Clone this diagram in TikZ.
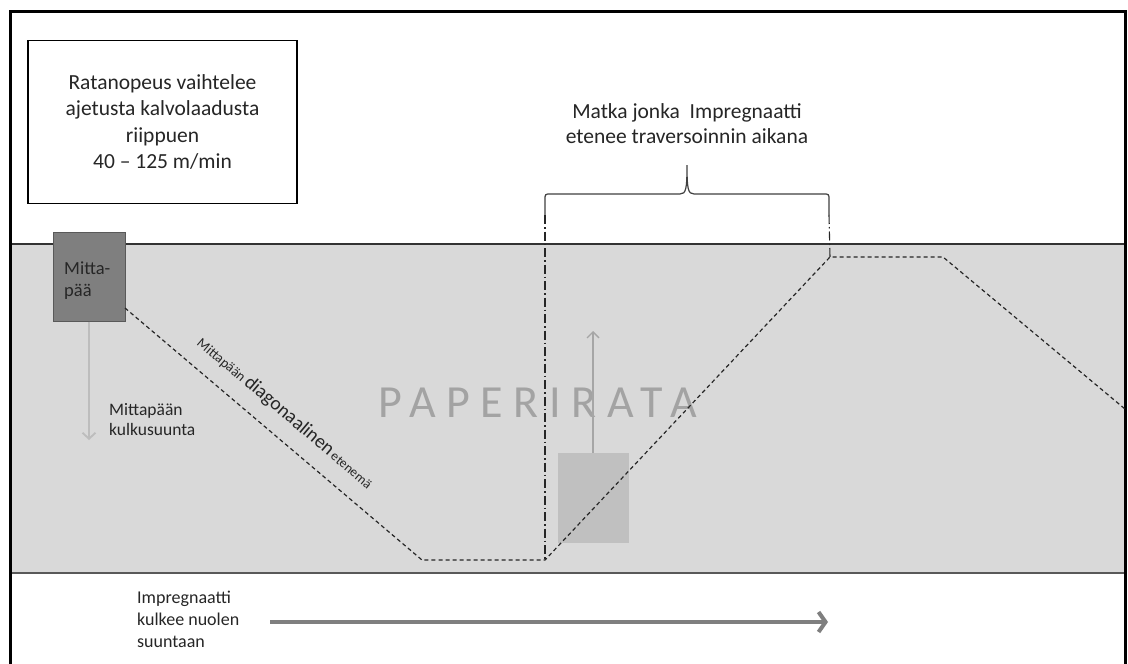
\documentclass[tikz,border=0pt]{standalone}
\usepackage{fontspec}
\setmainfont{Carlito}
\usetikzlibrary{arrows.meta}

\definecolor{bandgrey}{HTML}{D9D9D9}
\definecolor{headgrey}{HTML}{7F7F7F}
\definecolor{headedge}{HTML}{595959}
\definecolor{lightarrow}{HTML}{BDBDBD}
\definecolor{webtext}{HTML}{A3A3A3}
\definecolor{boxgrey}{HTML}{C0C0C0}

\tikzset{
  txt/.style={inner sep=0pt, text=black!85},
  pathline/.style={draw=black!85, line width=1.2pt, dash pattern=on 4pt off 3pt},
  guideline/.style={draw=black!85, line width=1.1pt, dash pattern=on 9pt off 3pt on 1.5pt off 3pt},
  bracestyle/.style={draw=black!75, line width=1.2pt},
  greyarrow/.style={draw=lightarrow, line width=1.8pt, -{Straight Barb[length=6pt,width=13pt,line width=1.8pt]}},
  flowarrow/.style={draw=headgrey, line width=4.5pt, -{Straight Barb[length=7pt,width=20pt,line width=4pt]}},
}

\begin{document}
\begin{tikzpicture}[x=1pt,y=-1pt]
\useasboundingbox (0,0) rectangle (1128,664);
\fill[white] (0,0) rectangle (1128,664);

% paper web band
\fill[bandgrey] (10,244) rectangle (1125,573);
\draw[black!80, line width=1.2pt] (10,244) -- (1125,244);
\draw[headedge, line width=2.4pt] (10,573) -- (1125,573);

% outer frame (open at the bottom)
\draw[black, line width=3pt] (10,670) -- (10,11) -- (1125,11) -- (1125,670);

% info box
\node[draw=black, line width=1.1pt, fill=white, minimum width=269pt, minimum height=163pt,
      inner sep=0pt, align=center, font=\fontsize{21.5}{26.5}\selectfont, text=black!85]
  (info) at (162.5,122) {Ratanopeus vaihtelee\\ajetusta kalvolaadusta\\riippuen\\40 -- 125 m/min};

% web label
\node[txt, anchor=base west, text=webtext, font=\fontsize{46}{46}\selectfont\addfontfeatures{LetterSpace=23}]
  (web) at (378,417) {PAPERIRATA};

% measuring head
\node[draw=headedge, line width=1pt, fill=headgrey, minimum width=72pt, minimum height=89pt, inner sep=0pt]
  (head) at (89,276.5) {};
\node[txt, anchor=west, align=left, font=\fontsize{18.5}{22}\selectfont] (headtxt) at (64,281) {Mitta-\\pää};

% head travel direction
\coordinate (downend) at (89,440);
\draw[greyarrow] (head.south) -- (downend);
\node[txt, anchor=west, align=left, font=\fontsize{17.5}{20}\selectfont] (dirtxt) at (109,420) {Mittapään\\kulkusuunta};

% sample patch with upward arrow
\node[fill=boxgrey, minimum width=71pt, minimum height=90pt, inner sep=0pt] (patch) at (593,498) {};
\coordinate (upend) at (593,331);
\draw[draw=black!35, line width=1.4pt, -{Straight Barb[length=6pt,width=12pt,line width=1.4pt]}] (patch.north) -- (upend);

% diagonal path of the head
\coordinate (p0) at (125,308);
\coordinate (p1) at (422,560);
\coordinate (p2) at (545,560);
\coordinate (p3) at (830,257);
\coordinate (p4) at (943,257);
\coordinate (p5) at (1125,409);
\draw[pathline] (p0) -- (p1) -- (p2) -- (p3) -- (p4) -- (p5);

\node[txt, rotate=-40.3] (diagtxt) at (285,413)
  {{\fontsize{14}{15}\selectfont Mittapään}\hspace{3pt}{\fontsize{19.5}{20}\selectfont diagonaalinen}{\fontsize{13.5}{14}\selectfont\,etenemä}};

% brace over the distance travelled
\coordinate (bl) at (545,215);
\coordinate (br) at (829,215);
\draw[bracestyle] (bl) -- (545,200) .. controls (545,194) .. (551,194) -- (680,194)
   .. controls (686,194) and (687,189) .. (687,165)
   .. controls (687,189) and (688,194) .. (694,194) -- (823,194)
   .. controls (829,194) .. (829,200) -- (br);
\draw[guideline] (bl) -- (p2);
\draw[guideline] (br) -- (p3);
\node[txt, align=center, font=\fontsize{21.5}{25}\selectfont] (spantxt) at (687,124)
  {Matka jonka~ Impregnaatti\\etenee traversoinnin aikana};

% flow direction of the impregnate
\coordinate (fs) at (270,622);
\coordinate (fe) at (828,622);
\draw[flowarrow] (fs) -- (fe);
\node[txt, anchor=west, align=left, font=\fontsize{18}{22}\selectfont] (flowtxt) at (137,619)
  {Impregnaatti\\kulkee nuolen\\suuntaan};
\end{tikzpicture}
\end{document}
